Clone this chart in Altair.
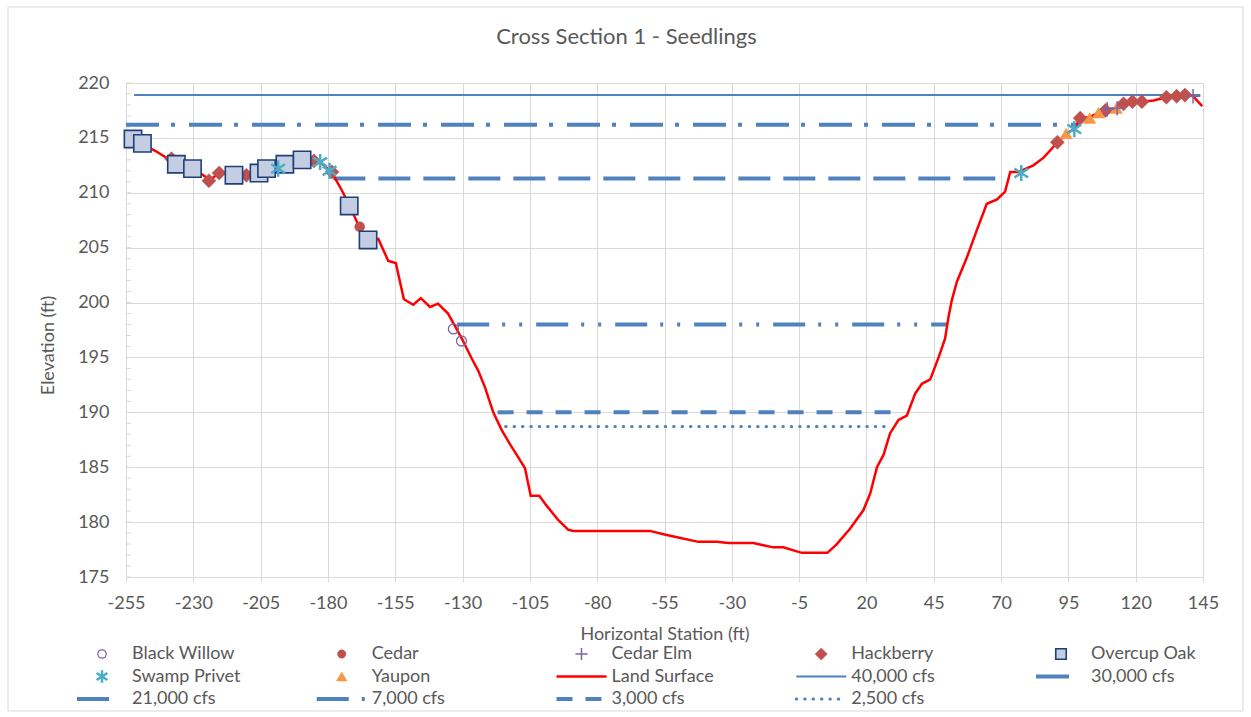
import altair as alt
import pandas as pd

TITLE = "Cross Section 1 - Seedlings"
X_TITLE = "Horizontal Station (ft)"
Y_TITLE = "Elevation (ft)"

# ---------------- data ----------------
land_x = [-255, -252, -248.5, -244, -239.4, -236, -230, -225.1, -224.2, -220.4, -215, -210.3,
          -206.5, -202.8, -198.5, -196, -189.5, -185.2, -182.8, -179.3, -178, -175, -171.9,
          -168.2, -165.1, -161.3, -157.6, -154.8, -151.8, -148.3, -145.5, -142.1, -139.1,
          -135.4, -132.9, -129.8, -126.6, -124.2, -121.7, -118.6, -115.5, -112.4, -109.3,
          -106.8, -104.7, -101.5, -98.8, -94.5, -90.7, -88.9, -60.4, -55.4, -49.9, -42.4,
          -35.6, -31.3, -22.0, -18.3, -14.6, -10.9, -4.0, 5.5, 9.0, 13.9, 18.9, 21.4, 23.9,
          26.3, 28.8, 31.9, 35.0, 38.1, 40.6, 43.7, 46.8, 49.2, 50.5, 51.7, 53.6, 57.3, 61.0,
          64.7, 68.5, 71.5, 73.4, 76.5, 82.0, 85.8, 91.0, 94.2, 97.2, 99.4, 102.9, 106.2,
          109.6, 112.8, 115.7, 119.2, 122.7, 126.6, 131.6, 135.3, 138.5, 141.3, 144.7]
land_y = [215.3, 214.9, 214.4, 213.8, 213.1, 212.6, 212.2, 211.4, 211.1, 211.8, 211.7, 211.6,
          211.8, 212.2, 212.3, 212.6, 213.1, 212.9, 212.8, 212.0, 211.6, 210.3, 208.8,
          206.8, 205.7, 205.8, 203.8, 203.6, 200.3, 199.8, 200.4, 199.6, 199.9,
          199.0, 197.9, 196.5, 194.9, 193.8, 192.3, 190.0, 188.4, 187.1, 185.9,
          184.9, 182.4, 182.4, 181.5, 180.2, 179.3, 179.2, 179.2, 178.9, 178.6, 178.2,
          178.2, 178.1, 178.1, 177.9, 177.7, 177.7, 177.2, 177.2, 178.0, 179.4, 181.1, 182.6, 185.0,
          186.1, 188.1, 189.3, 189.7, 191.7, 192.6, 193.0, 195.0, 196.7, 198.7, 200.2, 201.9, 204.1, 206.6,
          209.0, 209.4, 210.1, 211.9, 211.9, 212.5, 213.2, 214.6, 215.4, 215.8, 216.8, 216.9, 217.3,
          217.6, 217.7, 218.2, 218.3, 218.3, 218.4, 218.7, 218.8, 218.9, 218.8, 217.9]

black_willow_x = [-133.4, -130.4]
black_willow_y = [197.6, 196.5]

cedar_x = [-168.2]
cedar_y = [206.9]

cedar_elm_x = [109.4, 113.1, 141.3]
cedar_elm_y = [217.6, 217.7, 218.8]

hackberry_x = [-238.1, -224.2, -220.4, -210.3, -185.2, -178.5,
               90.9, 99.4, 108.8, 115.5, 118.8, 122.3, 131.4, 135.2, 138.3]
hackberry_y = [213.1, 211.1, 211.8, 211.6, 212.9, 211.9,
               214.6, 216.8, 217.5, 218.1, 218.3, 218.3, 218.7, 218.8, 218.9]

overcup_oak_x = [-252.4, -248.9, -236.3, -230.3, -214.9, -205.6, -202.8, -196.0, -189.6, -172.1, -165.1]
overcup_oak_y = [214.9, 214.5, 212.6, 212.2, 211.6, 211.8, 212.2, 212.6, 213.0, 208.8, 205.7]

swamp_privet_x = [-198.5, -182.9, -179.4, 77.5, 97.2]
swamp_privet_y = [212.2, 212.8, 212.0, 211.8, 215.8]

yaupon_x = [94.2, 102.9, 106.2, 112.8]
yaupon_y = [215.4, 216.8, 217.3, 217.7]

flow_labels = ["40,000 cfs", "30,000 cfs", "21,000 cfs", "7,000 cfs", "3,000 cfs", "2,500 cfs"]
flow_elev = [218.9, 216.2, 211.3, 198.0, 190.0, 188.7]
flow_start = [-252, -255, -178, -132, -117, -114]
flow_end = [144, 99, 73, 50, 31, 28]

x_ticks = list(range(-255, 146, 25))
y_ticks = list(range(175, 221, 5))
y_minor = list(range(175, 221, 1))

legend_order = ["Black Willow", "Cedar", "Cedar Elm", "Hackberry", "Overcup Oak",
                "Swamp Privet", "Yaupon", "Land Surface", "40,000 cfs", "30,000 cfs",
                "21,000 cfs", "7,000 cfs", "3,000 cfs", "2,500 cfs"]

# ---------------- styles ----------------
FONT = "Lato"
TXT = "#595959"
GRID = "#d9d9d9"
BLUE = "#4f81bd"
RED = "#ff0000"
FS = 18

ASTERISK = "M0,-1L0,1M-0.85,-0.55L0.85,0.55M-0.85,0.55L0.85,-0.55"
PLUS = "M-1,0L1,0M0,-1L0,1"
HLINE = "M-1,0L1,0"

marker_styles = {
    "Black Willow": dict(shape="circle", filled=False, stroke="#8064a2", fill="transparent", strokeWidth=1.3, size=100),
    "Cedar": dict(shape="circle", filled=True, fill="#c0504d", stroke="#c0504d", strokeWidth=0.5, size=100),
    "Cedar Elm": dict(shape=PLUS, filled=False, stroke="#8064a2", fill="transparent", strokeWidth=1.5, size=210),
    "Hackberry": dict(shape="diamond", filled=True, fill="#c0504d", stroke="#c0504d", strokeWidth=0.5, size=200),
    "Overcup Oak": dict(shape="square", filled=True, fill="#c3cee3", stroke="#1f3f7a", strokeWidth=1.6, size=300),
    "Swamp Privet": dict(shape=ASTERISK, filled=False, stroke="#4bacc6", fill="transparent", strokeWidth=2.5, size=260),
    "Yaupon": dict(shape="triangle-up", filled=True, fill="#f79646", stroke="#f79646", strokeWidth=0.5, size=150),
}
legend_marker_size = {"Black Willow": 70, "Cedar": 70, "Cedar Elm": 150, "Hackberry": 150,
                      "Overcup Oak": 110, "Swamp Privet": 160, "Yaupon": 110}

line_styles = {
    "Land Surface": dict(color=RED, strokeWidth=2.5),
    "40,000 cfs": dict(color=BLUE, strokeWidth=2),
    "30,000 cfs": dict(color=BLUE, strokeWidth=4, strokeDash=[33, 12, 4, 14]),
    "21,000 cfs": dict(color=BLUE, strokeWidth=4, strokeDash=[32, 13]),
    "7,000 cfs": dict(color=BLUE, strokeWidth=4, strokeDash=[32, 13, 3, 14, 3, 14]),
    "3,000 cfs": dict(color=BLUE, strokeWidth=4, strokeDash=[16, 13]),
    "2,500 cfs": dict(color=BLUE, strokeWidth=3, strokeDash=[0.5, 7.9], strokeCap="round"),
}
legend_dash_override = {"30,000 cfs": [33, 100], "21,000 cfs": [32, 100]}

W, H = 1077, 494
PAD = {"left": 126, "top": 83, "right": 1251 - 126 - W, "bottom": 717 - 83 - H}

xs = alt.Scale(domain=[-255, 145], nice=False, zero=False)
ys = alt.Scale(domain=[175, 220], nice=False, zero=False)

x_axis = alt.Axis(values=x_ticks, title=X_TITLE, grid=True, gridColor=GRID, gridWidth=1,
                  domainColor=GRID, tickColor=GRID, tickSize=5, labelPadding=12,
                  labelExpr="'' + datum.value",
                  labelFont=FONT, labelFontSize=FS, labelColor=TXT, labelOverlap=False,
                  labelFlush=False,
                  titleFont=FONT, titleFontSize=FS, titleColor=TXT, titleFontWeight="normal",
                  titlePadding=13)
y_axis = alt.Axis(values=y_ticks, title=Y_TITLE, grid=True, gridColor=GRID, gridWidth=1,
                  domainColor=GRID, tickColor=GRID, tickSize=0, labelPadding=17,
                  labelFont=FONT, labelFontSize=FS, labelColor=TXT, labelOverlap=False,
                  labelFlush=False,
                  titleFont=FONT, titleFontSize=FS, titleColor=TXT, titleFontWeight="normal",
                  titlePadding=20, titleY=262)


def X(field):
    return alt.X(field, type="quantitative", scale=xs, axis=x_axis)


def Y(field):
    return alt.Y(field, type="quantitative", scale=ys, axis=y_axis)


layers = []

# minor ticks on the elevation axis
minor_df = pd.DataFrame({"v": y_minor})
layers.append(alt.Chart(minor_df).mark_rule(color=GRID, strokeWidth=1).encode(
    y=Y("v"), x=alt.value(0), x2=alt.value(5)))

# water surface lines
for lab, e, s, t in zip(flow_labels, flow_elev, flow_start, flow_end):
    df = pd.DataFrame({"x": [s], "x2": [t], "y": [e]})
    st = line_styles[lab]
    layers.append(alt.Chart(df).mark_rule(**st).encode(x=X("x"), x2="x2", y=Y("y")))

# land surface
land_df = pd.DataFrame({"x": land_x, "y": land_y})
layers.append(alt.Chart(land_df).mark_line(**line_styles["Land Surface"]).encode(
    x=X("x"), y=Y("y"), order="x:Q"))

species = [
    ("Hackberry", hackberry_x, hackberry_y),
    ("Cedar", cedar_x, cedar_y),
    ("Yaupon", yaupon_x, yaupon_y),
    ("Overcup Oak", overcup_oak_x, overcup_oak_y),
    ("Swamp Privet", swamp_privet_x, swamp_privet_y),
    ("Black Willow", black_willow_x, black_willow_y),
    ("Cedar Elm", cedar_elm_x, cedar_elm_y),
]
for name, sx, sy in species:
    df = pd.DataFrame({"x": sx, "y": sy})
    layers.append(alt.Chart(df).mark_point(opacity=1, **marker_styles[name]).encode(
        x=X("x"), y=Y("y")))

main = alt.layer(*layers)

# ---------------- legend ----------------
lx = alt.Scale(domain=[0, 4], range=[132 - 126, 1091 - 126])
ly = alt.Scale(domain=[0, 2], range=[654 - 83, 699 - 83])
leg_layers = []

# chart-area frame
frame_df = pd.DataFrame({"k": [0]})
leg_layers.append(alt.Chart(frame_df).mark_rect(fill="transparent", stroke=GRID, strokeWidth=1).encode(
    x=alt.value(8 - 126), x2=alt.value(1243 - 126), y=alt.value(7 - 83), y2=alt.value(711 - 83)))

for i, name in enumerate(legend_order):
    df = pd.DataFrame({"c": [i % 5], "r": [i // 5], "label": [name]})
    enc = dict(x=alt.X("c:Q", scale=lx, axis=None), y=alt.Y("r:Q", scale=ly, axis=None))
    leg_layers.append(alt.Chart(df).mark_text(align="left", baseline="middle", font=FONT,
                                              fontSize=FS, color=TXT).encode(text="label:N", **enc))
    if name in marker_styles:
        st = dict(marker_styles[name])
        st["size"] = legend_marker_size[name]
        leg_layers.append(alt.Chart(df).mark_point(opacity=1, xOffset=-30, **st).encode(**enc))
    else:
        ls = line_styles[name]
        mk = dict(shape=HLINE, size=2500, filled=False, opacity=1, xOffset=-30,
                  stroke=ls["color"], strokeWidth=ls["strokeWidth"])
        dash = legend_dash_override.get(name, ls.get("strokeDash"))
        if dash is not None:
            mk["strokeDash"] = dash
        if "strokeCap" in ls:
            mk["strokeCap"] = ls["strokeCap"]
        leg_layers.append(alt.Chart(df).mark_point(**mk).encode(**enc))

legend = alt.layer(*leg_layers)

chart = alt.layer(main, legend).resolve_scale(x="independent", y="independent").properties(
    width=W, height=H,
    padding=PAD,
    autosize=alt.AutoSizeParams(type="none"),
    background="white",
    title=alt.TitleParams(text=TITLE, font=FONT, fontSize=22, color=TXT, fontWeight="normal",
                          anchor="middle", frame="group", offset=-42, dx=-38),
).configure_view(strokeOpacity=0)

chart.save("out.html", embed_options={"renderer": "svg", "actions": False})
